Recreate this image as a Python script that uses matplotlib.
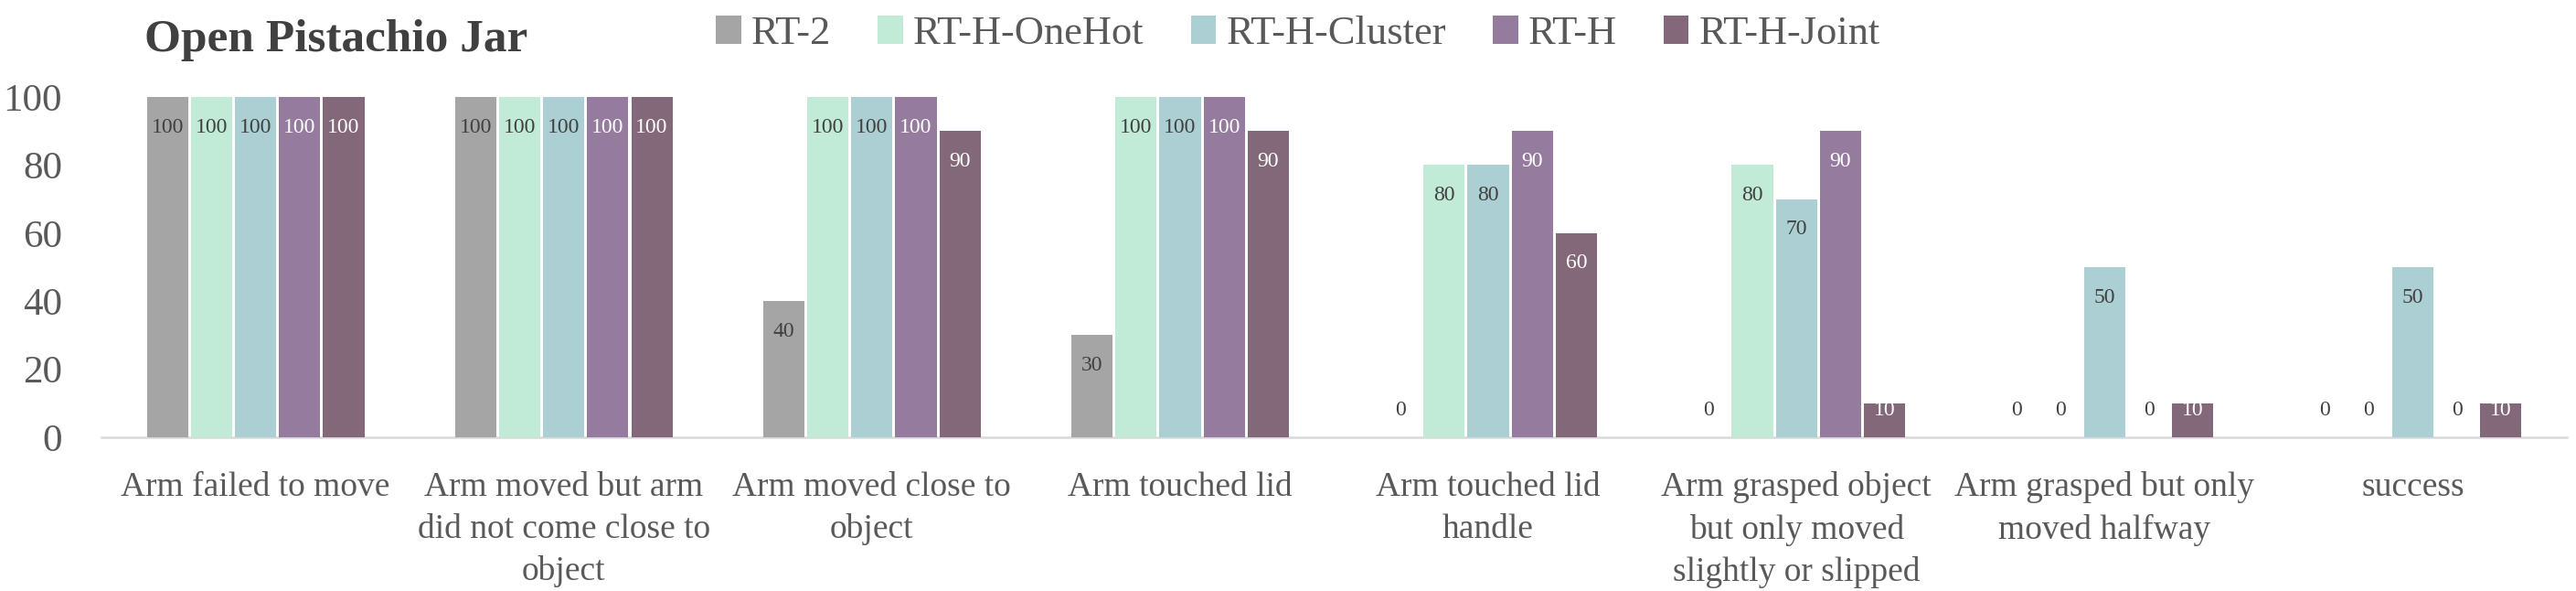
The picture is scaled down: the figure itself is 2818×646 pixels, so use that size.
import numpy as np
import matplotlib
matplotlib.use('Agg')
import matplotlib.pyplot as plt

plt.rcParams['font.family'] = ['Liberation Serif', 'DejaVu Serif']

# categories (line breaks as in the chart)
categories = ['Arm failed to move',
              'Arm moved but arm\ndid not come close to\nobject',
              'Arm moved close to\nobject',
              'Arm touched lid',
              'Arm touched lid\nhandle',
              'Arm grasped object\nbut only moved\nslightly or slipped',
              'Arm grasped but only\nmoved halfway',
              'success']

series_names = ['RT-2', 'RT-H-OneHot', 'RT-H-Cluster', 'RT-H', 'RT-H-Joint']
rt2 = [100, 100, 40, 30, 0, 0, 0, 0]
rth_onehot = [100, 100, 100, 100, 80, 80, 0, 0]
rth_cluster = [100, 100, 100, 100, 80, 70, 50, 50]
rth = [100, 100, 100, 100, 90, 90, 0, 0]
rth_joint = [100, 100, 90, 90, 60, 10, 10, 10]
yticks = [0, 20, 40, 60, 80, 100]

colors = ['#A5A5A5', '#C1EBD7', '#ABCFD3', '#957B9E', '#836879']
label_colors = ['#404040', '#404040', '#404040', 'white', 'white']
txt = '#595959'

fig = plt.figure(figsize=(28.18, 6.46), dpi=100)
ax = fig.add_axes([111 / 2818, (646 - 478) / 646, (2808 - 111) / 2818, (478 - 106) / 646])

x = np.arange(len(categories))
slot = 0.143
bw = 0.134
all_series = [rt2, rth_onehot, rth_cluster, rth, rth_joint]
for i, vals in enumerate(all_series):
    xs = x + (i - 2) * slot
    ax.bar(xs, vals, width=bw, color=colors[i], label=series_names[i], zorder=3, linewidth=0)
    # data labels: inside end, zeros sit just above the axis
    for xi, v in zip(xs, vals):
        ypos = max(v - 8.9, 7.8)
        c = label_colors[i] if v > 0 else '#404040'
        ax.text(xi, ypos, str(v), ha='center', va='center', fontsize=17, color=c, zorder=4)

ax.set_xlim(-0.5, len(categories) - 0.5)
ax.set_ylim(0, 100)
ax.set_yticks(yticks)
ax.set_xticks(x)
ax.set_xticklabels(categories, fontsize=27, color=txt, linespacing=1.42, va='top')
ax.tick_params(axis='y', length=0, labelsize=31, labelcolor=txt, pad=31)
ax.tick_params(axis='x', length=0, pad=27)
for s in ['left', 'right', 'top']:
    ax.spines[s].set_visible(False)
ax.spines['bottom'].set_color('#D9D9D9')
ax.spines['bottom'].set_linewidth(1.8)

fig.text(158 / 2818, 1 - 44 / 646, 'Open Pistachio Jar', fontsize=37, fontweight='bold',
         color='#404040', ha='left', va='center')

fig.legend(loc='center', bbox_to_anchor=(1420 / 2818, 1 - 37 / 646), ncol=5, frameon=False,
           fontsize=32, handlelength=0.62, handleheight=0.7, handletextpad=0.25,
           columnspacing=1.15, labelcolor=txt)

fig.savefig('out.png', dpi=100)
